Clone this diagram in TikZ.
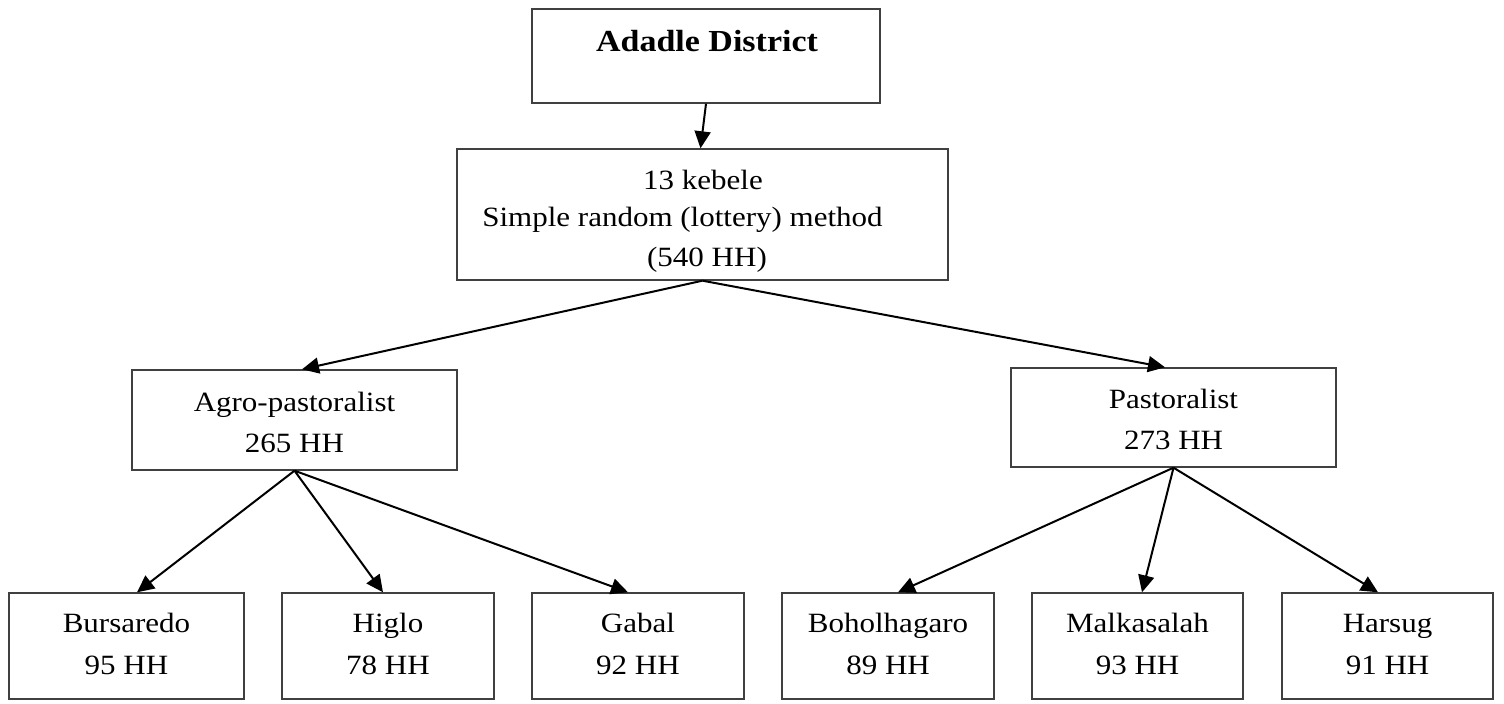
\documentclass[tikz,border=0pt]{standalone}
\usepackage{fontspec}
\usepackage{graphicx}
\setmainfont{Liberation Serif}
\usetikzlibrary{arrows.meta}
\newcommand{\sqz}[1]{\scalebox{1}[0.9]{#1}}
\tikzset{
  box/.style={draw=black!75, line width=0.7pt, rectangle, inner sep=0pt},
  txt/.style={anchor=base, inner sep=0pt, font=\fontsize{15.5}{18}\selectfont},
  btxt/.style={anchor=base, inner sep=0pt, font=\fontsize{17}{20}\selectfont\bfseries},
  arr/.style={draw=black, line width=1pt, -{Triangle[length=8.5pt,width=8pt]}}
}
\begin{document}
\begin{tikzpicture}[x=0.5pt,y=-0.5pt]
\useasboundingbox (0,0) rectangle (1504,704);
% boxes
\node[box, minimum width=174pt, minimum height=47pt] (top) at (706,56) {};
\node[box, minimum width=245.5pt, minimum height=65.5pt] (keb) at (702.5,214.5) {};
\node[box, minimum width=162.5pt, minimum height=50pt] (agro) at (294.5,420) {};
\node[box, minimum width=162.5pt, minimum height=49.5pt] (past) at (1173.5,417.5) {};
\node[box, minimum width=117.5pt, minimum height=53pt] (burs) at (126.5,646) {};
\node[box, minimum width=106pt, minimum height=53pt] (higlo) at (388,646) {};
\node[box, minimum width=106pt, minimum height=53pt] (gabal) at (638,646) {};
\node[box, minimum width=106pt, minimum height=53pt] (bohol) at (888,646) {};
\node[box, minimum width=105.5pt, minimum height=53pt] (malk) at (1137.5,646) {};
\node[box, minimum width=105.5pt, minimum height=53pt] (hars) at (1387.5,646) {};
% texts
\node[btxt] (topT) at (707,52) {\sqz{Adadle District}};
\node[txt] (kebA) at (703,190) {\sqz{13 kebele}};
\node[txt] (kebB) at (682.5,227) {\sqz{Simple random (lottery) method}};
\node[txt] (kebC) at (707,267) {\sqz{(540 HH)}};
\node[txt] (agroA) at (294.5,412) {\sqz{Agro-pastoralist}};
\node[txt] (agroB) at (294.5,453) {\sqz{265 HH}};
\node[txt] (pastA) at (1173.5,409) {\sqz{Pastoralist}};
\node[txt] (pastB) at (1173.5,450) {\sqz{273 HH}};
\node[txt] (bursA) at (126.5,633) {\sqz{Bursaredo}};
\node[txt] (bursB) at (126.5,675) {\sqz{95 HH}};
\node[txt] (higloA) at (388,633) {\sqz{Higlo}};
\node[txt] (higloB) at (388,675) {\sqz{78 HH}};
\node[txt] (gabalA) at (638,633) {\sqz{Gabal}};
\node[txt] (gabalB) at (638,675) {\sqz{92 HH}};
\node[txt] (bholA) at (888,633) {\sqz{Boholhagaro}};
\node[txt] (bholB) at (888,675) {\sqz{89 HH}};
\node[txt] (malkA) at (1137.5,633) {\sqz{Malkasalah}};
\node[txt] (malkB) at (1137.5,675) {\sqz{93 HH}};
\node[txt] (harsA) at (1387.5,633) {\sqz{Harsug}};
\node[txt] (harsB) at (1387.5,675) {\sqz{91 HH}};
% connectors
\draw[arr] (top.south) -- ([xshift=-1pt]keb.north);
\draw[arr] (keb.south) -- ([xshift=3.75pt]agro.north);
\draw[arr] (keb.south) -- ([xshift=-4.25pt]past.north);
\draw[arr] (agro.south) -- ([xshift=5.25pt]burs.north);
\draw[arr] (agro.south) -- ([xshift=-2.5pt]higlo.north);
\draw[arr] (agro.south) -- ([xshift=-5pt]gabal.north);
\draw[arr] (past.south) -- ([xshift=5pt]bohol.north);
\draw[arr] (past.south) -- ([xshift=2.25pt]malk.north);
\draw[arr] (past.south) -- ([xshift=-4.75pt]hars.north);
\end{tikzpicture}
\end{document}
